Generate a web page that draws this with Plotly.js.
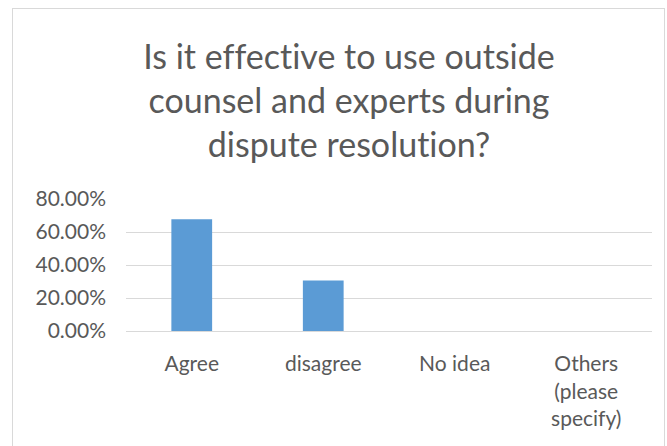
<!DOCTYPE html>
<html>
<head>
<meta charset="utf-8">
<script src="https://cdn.plot.ly/plotly-3.0.1.min.js"></script>
<style>
html,body{margin:0;padding:0;background:#fff;}
#wrap{position:relative;width:667px;height:446px;overflow:hidden;}
#chart{position:absolute;left:0;top:0;width:667px;height:446px;}
#chart text{font-variant-ligatures:none;font-feature-settings:"liga" 0;}
#frame{position:absolute;left:12px;top:8px;width:651px;height:460px;border:1px solid #d9d9d9;pointer-events:none;}
</style>
</head>
<body>
<div id="wrap"><div id="chart"></div><div id="frame"></div></div>
<script>
var categories = ['Agree', 'disagree', 'No idea', 'Others<br>(please<br>specify)'];
var shares = [0.677, 0.306, 0, 0];
var yTicks = [0, 0.2, 0.4, 0.6, 0.8];
var yTickLabels = ['0.00%', '20.00%', '40.00%', '60.00%', '80.00%'];
var chartTitle = 'Is it effective to use outside<br>counsel and experts during<br>dispute resolution?';

var textColor = '#595959';
Plotly.newPlot('chart', [{
  type: 'bar',
  x: categories,
  y: shares,
  marker: {color: '#5B9BD5'},
  hoverinfo: 'skip'
}], {
  width: 667, height: 446,
  paper_bgcolor: 'rgba(0,0,0,0)',
  plot_bgcolor: '#ffffff',
  margin: {l: 126, r: 15, t: 199, b: 115},
  bargap: 0.69,
  showlegend: false,
  font: {family: 'Lato, "Open Sans", sans-serif', color: textColor, size: 21},
  title: {
    text: chartTitle,
    font: {family: 'Lato, sans-serif', size: 34, color: textColor},
    x: 349/667, xref: 'container', xanchor: 'center',
    y: 1 - 69/446, yref: 'container', yanchor: 'top'
  },
  xaxis: {
    type: 'category',
    showgrid: false,
    showline: true, linecolor: '#d9d9d9', linewidth: 1,
    ticks: '',
    ticklabelstandoff: 14,
    tickfont: {size: 21, color: textColor},
    fixedrange: true
  },
  yaxis: {
    range: [0, 0.8],
    tickvals: yTicks,
    ticktext: yTickLabels,
    showgrid: true, gridcolor: '#d9d9d9', gridwidth: 1,
    zeroline: false,
    showline: false,
    ticks: '',
    ticklabelstandoff: 19,
    tickfont: {size: 21, color: textColor},
    fixedrange: true
  }
}, {staticPlot: true, displayModeBar: false});
</script>
</body>
</html>
